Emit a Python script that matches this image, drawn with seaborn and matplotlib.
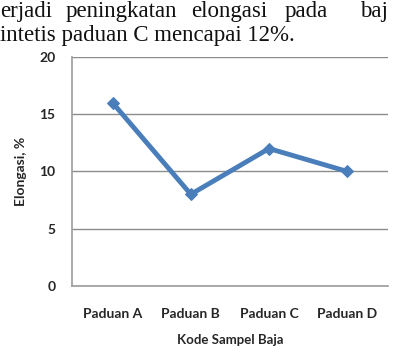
import matplotlib
matplotlib.use("Agg")
import matplotlib.pyplot as plt
import seaborn as sns
import pandas as pd

categories = ["Paduan A", "Paduan B", "Paduan C", "Paduan D"]
elongasi = [16, 8, 12, 10]
yticks = [0, 5, 10, 15, 20]
line1_words = ["erjadi", "peningkatan", "elongasi", "pada", "baj"]
line2_text = "intetis paduan C mencapai 12%."

sns.set_theme(style="white")
plt.rcParams['font.family'] = ['Lato', 'DejaVu Sans']

df = pd.DataFrame({"Kode": categories, "Elongasi": elongasi})

fig = plt.figure(figsize=(3.93, 3.52), dpi=100)
ax = fig.add_axes([0.183, 0.188, 0.804, 0.650])

sns.lineplot(data=df, x="Kode", y="Elongasi", ax=ax, color="#4a7ebb",
             linewidth=3.5, marker="D", markersize=6, markeredgecolor="#4a7ebb",
             sort=False)

ax.set_ylim(0, 20)
ax.set_xlim(-0.52, 3.52)
ax.set_yticks(yticks)
ax.yaxis.grid(True, color="#8c8c8c", linewidth=1)
ax.xaxis.grid(False)
for s in ["top", "right"]:
    ax.spines[s].set_visible(False)
ax.spines["left"].set_color("#a0a0a0")
ax.spines["bottom"].set_color("#a0a0a0")
ax.tick_params(axis="both", length=0, labelsize=10)
ax.tick_params(axis="x", pad=16)
ax.tick_params(axis="y", pad=12)
for lab in ax.get_xticklabels() + ax.get_yticklabels():
    lab.set_fontweight("bold")
ax.set_xlabel("Kode Sampel Baja", fontsize=9.5, fontweight="bold", labelpad=10)
ax.set_ylabel("Elongasi, %", fontsize=10, fontweight="bold", labelpad=9)

xs = [0, 66, 191, 285, 360]
for w, x in zip(line1_words, xs):
    fig.text(x / 393, 1 - 17 / 352, w, family="Liberation Serif", fontsize=16.5,
             ha="left", va="baseline", color="#111111")
fig.text(0, 1 - 41 / 352, line2_text, family="Liberation Serif", fontsize=16.5,
         ha="left", va="baseline", color="#111111")

fig.savefig("out.png", dpi=100)
